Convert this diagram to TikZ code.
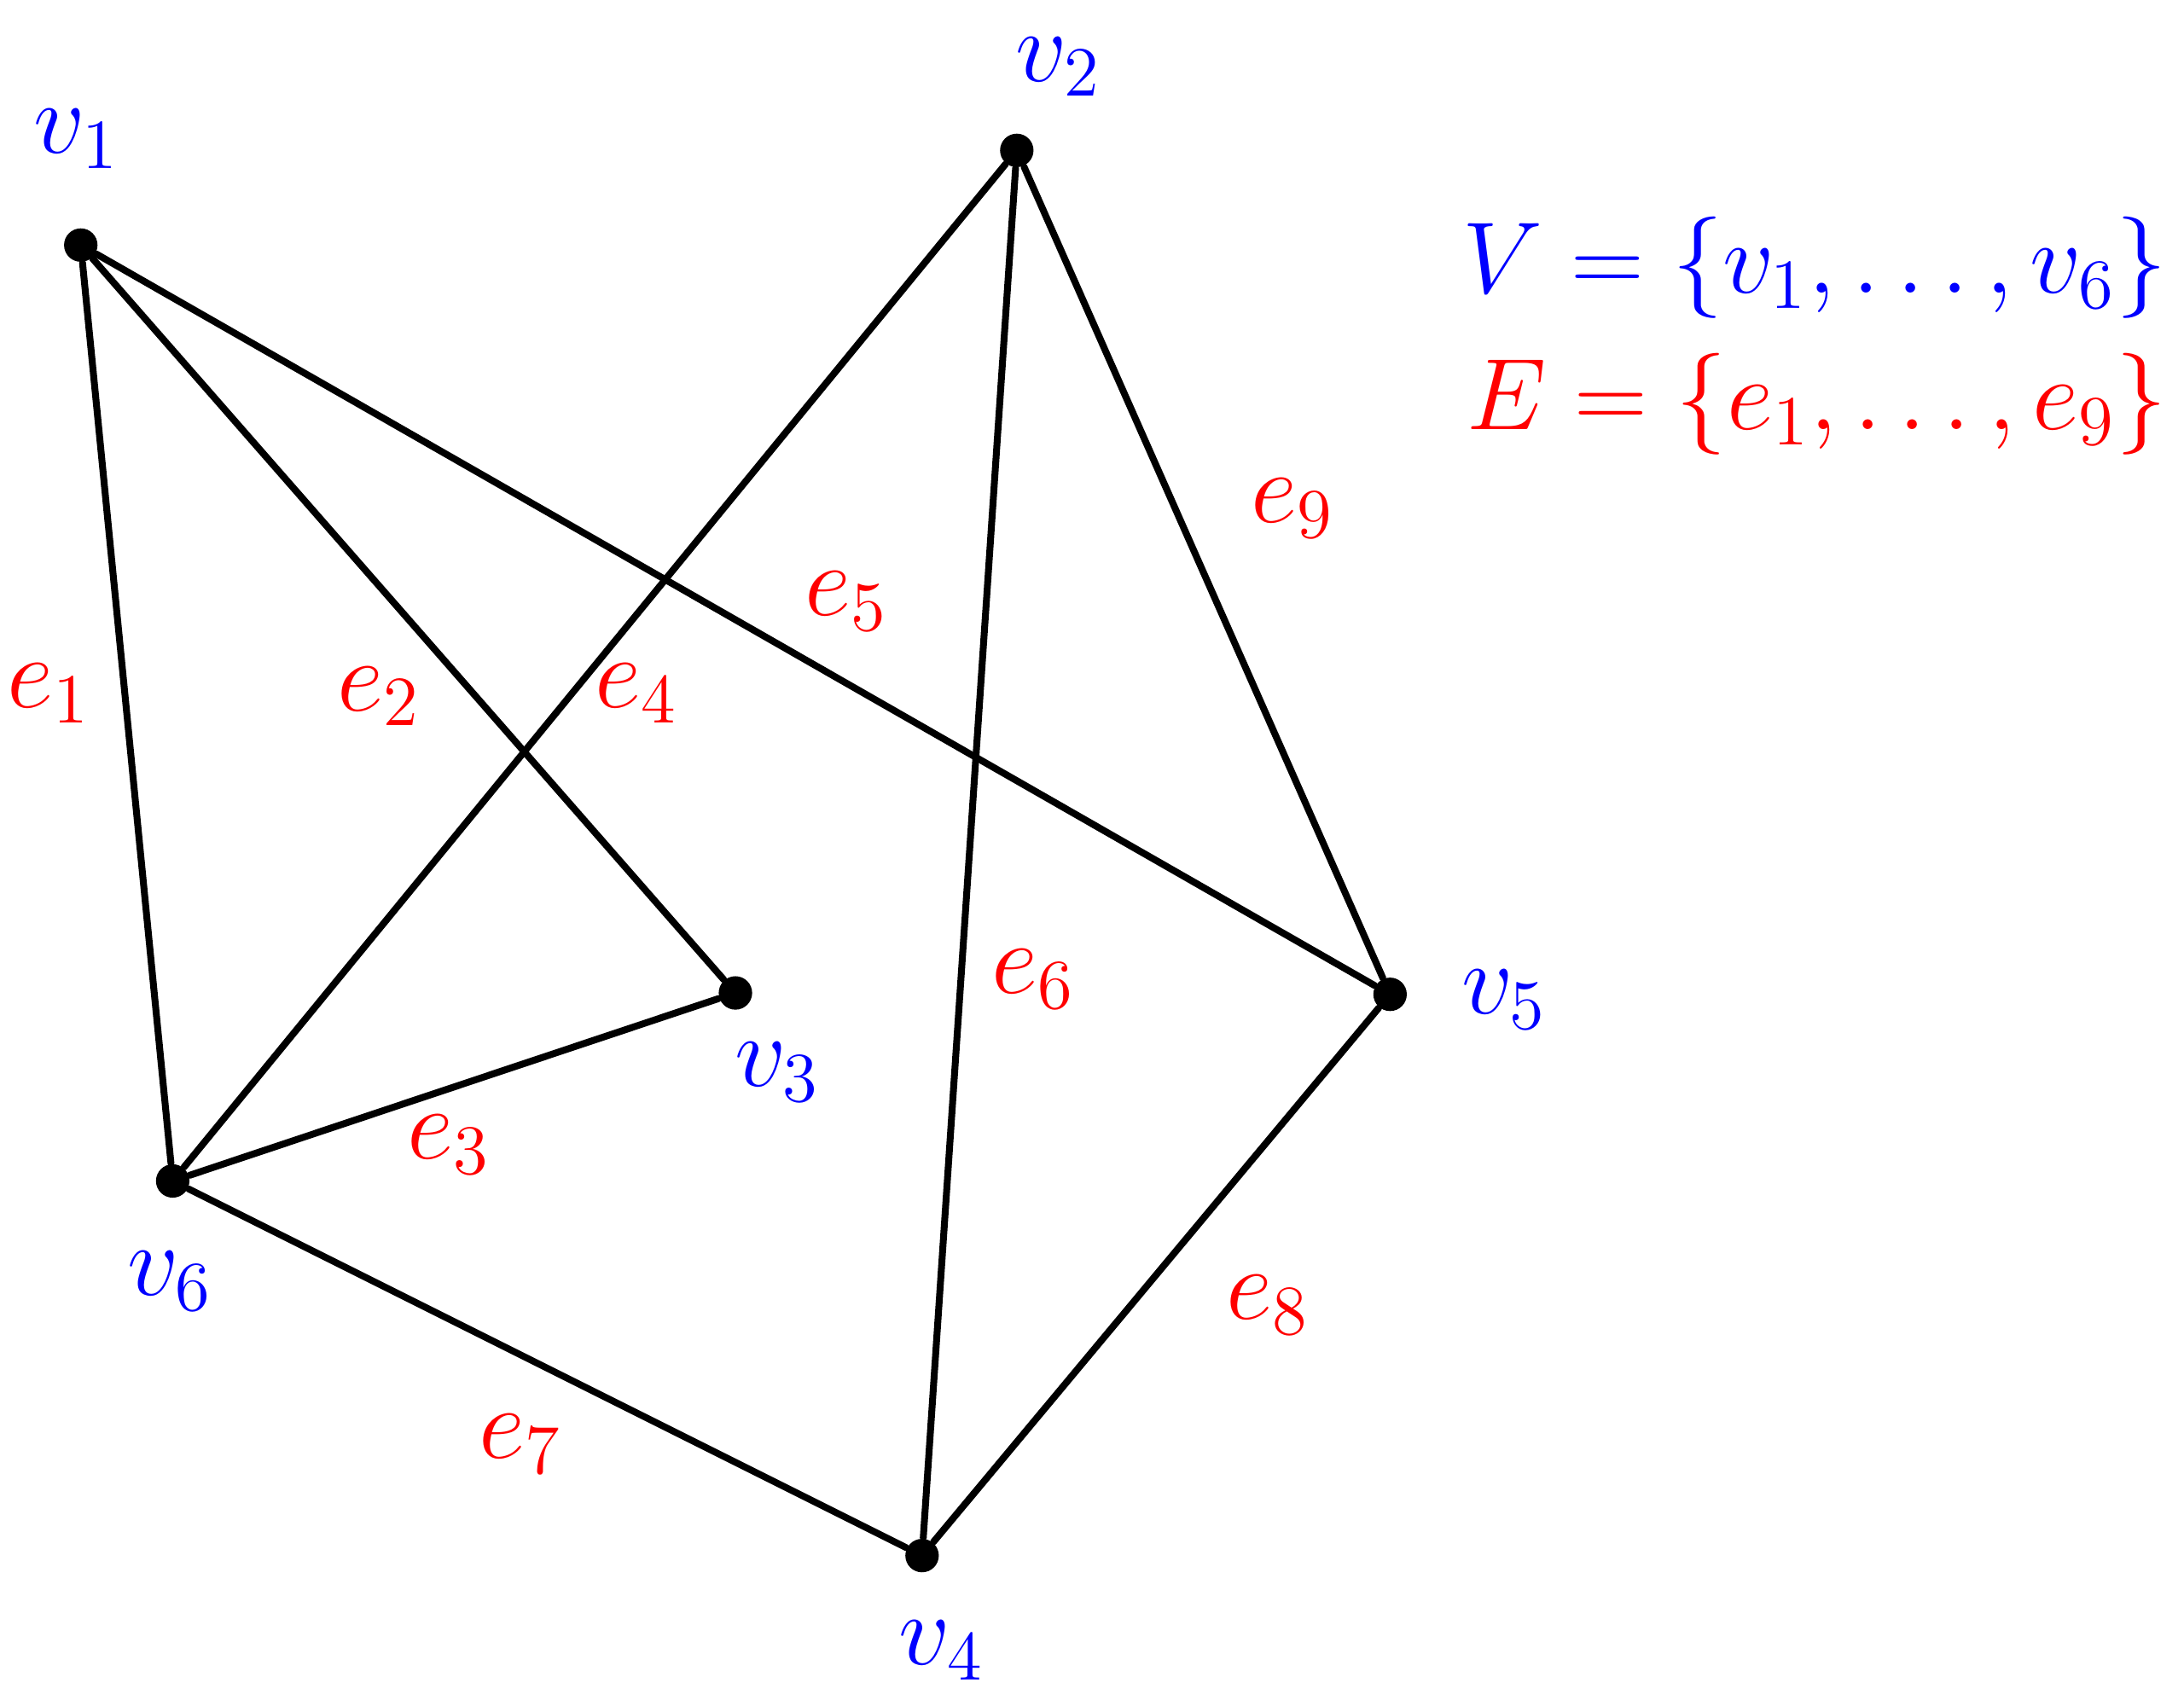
\documentclass[tikz,border=0pt]{standalone}
\usepackage{amssymb,amsmath}
\usepackage{xcolor}
\usetikzlibrary{positioning}
\tikzset{
  vert/.style={circle,fill=black,inner sep=0pt,minimum size=0.24cm},
  vlab/.style={text=blue,font=\fontsize{22}{26}\selectfont},
  elab/.style={text=red,font=\fontsize{22}{26}\selectfont},
  edge/.style={line width=1.4pt}
}
\begin{document}
\begin{tikzpicture}[line cap=round,line join=round,x=0.01cm,y=-0.01cm]
\useasboundingbox (0,0) rectangle (1568,1225);
% vertices
\node[vert] (v1) at (58,176) {};
\node[vert] (v2) at (730,108) {};
\node[vert] (v3) at (528,713) {};
\node[vert] (v4) at (662,1117) {};
\node[vert] (v5) at (998,714) {};
\node[vert] (v6) at (124,848) {};
% edges
\draw[edge] (v1) -- (v6);
\draw[edge] (v1) -- (v3);
\draw[edge] (v6) -- (v3);
\draw[edge] (v6) -- (v2);
\draw[edge] (v1) -- (v5);
\draw[edge] (v2) -- (v4);
\draw[edge] (v6) -- (v4);
\draw[edge] (v4) -- (v5);
\draw[edge] (v2) -- (v5);
% vertex labels
\node[vlab] (l1) at (55,100) {$v_1$};
\node[vlab] (l2) at (760,48) {$v_2$};
\node[vlab] (l3) at (558,770) {$v_3$};
\node[vlab] (l4) at (676,1185) {$v_4$};
\node[vlab] (l5) at (1080,718) {$v_5$};
\node[vlab] (l6) at (122,920) {$v_6$};
% edge labels
\node[elab] (k1) at (35,498) {$e_1$};
\node[elab] (k2) at (272,500) {$e_2$};
\node[elab] (k3) at (322,822) {$e_3$};
\node[elab] (k4) at (457,498) {$e_4$};
\node[elab] (k5) at (608,432) {$e_5$};
\node[elab] (k6) at (742,703) {$e_6$};
\node[elab] (k7) at (374,1037) {$e_7$};
\node[elab] (k8) at (910,937) {$e_8$};
\node[elab] (k9) at (928,365) {$e_9$};
% sets
\node[vlab,anchor=east] (setV) at (1568,192) {$V=\{v_1,\dots,v_6\}$};
\node[elab,anchor=east] (setE) at (1568,290) {$E=\{e_1,\dots,e_9\}$};
\end{tikzpicture}
\end{document}
